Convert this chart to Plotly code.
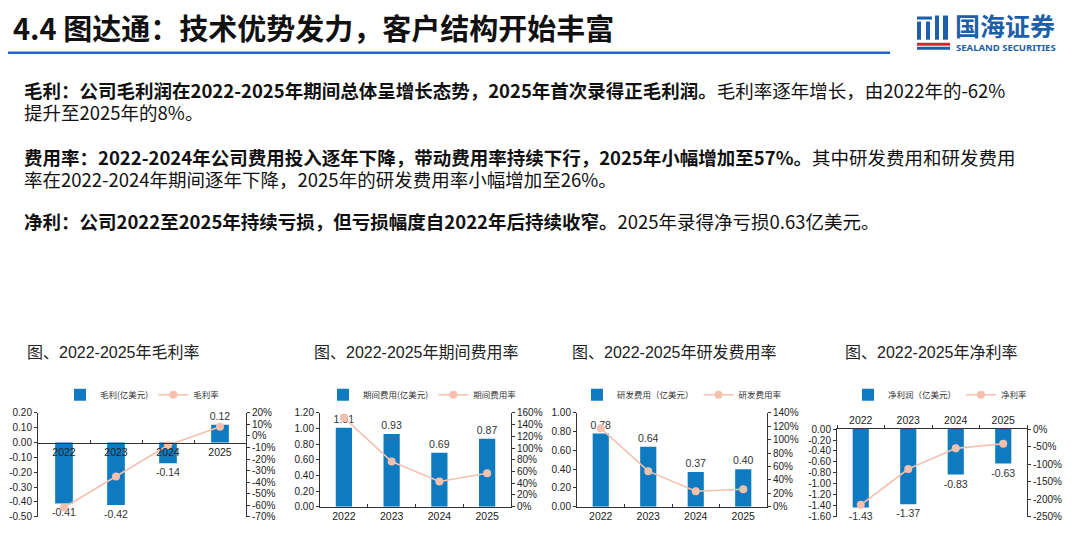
import plotly.graph_objects as go

W, H = 1080, 554

# ---- data -----------------------------------------------------------------
years = ["2022", "2023", "2024", "2025"]

gross_profit = [-0.41, -0.42, -0.14, 0.12]       # 亿美元
gross_margin = [-0.62, -0.35, -0.08, 0.08]

period_exp = [1.01, 0.93, 0.69, 0.87]
period_exp_rate = [1.52, 0.77, 0.43, 0.57]

rd_exp = [0.78, 0.64, 0.37, 0.40]
rd_exp_rate = [1.17, 0.53, 0.23, 0.26]

net_profit = [-1.43, -1.37, -0.83, -0.63]
net_margin = [-2.16, -1.14, -0.55, -0.42]

BLUE = "#0E7BC0"
PINK = "#F5C1AE"
AXIS = "#333333"
CJK = "Noto Sans CJK SC"
LATIN = "Liberation Sans"
MIXED = "Liberation Sans, Noto Sans CJK SC"


# map target screen pixels to paper fractions (page shifts the plot a bit)
def fx(px):
    return (px - 8) / W


def fy(py):
    return 1 - ((py - 16.5) / 0.97) / H


def ticks(lo, hi, step):
    n = int(round((hi - lo) / step))
    return [round(lo + i * step, 4) for i in range(n + 1)]


panels = [
    dict(title="图、2022-2025年毛利率", tx=25,
         bar=gross_profit, line=gross_margin,
         bar_name="毛利(亿美元)", line_name="毛利率",
         px=(38, 246), py=(412, 515),
         yl=(-0.5, 0.2, 0.1), yr=(-0.7, 0.2, 0.1), leg_x=60, xside="zero"),
    dict(title="图、2022-2025年期间费用率", tx=312,
         bar=period_exp, line=period_exp_rate,
         bar_name="期间费用(亿美元)", line_name="期间费用率",
         px=(320, 511), py=(412, 505),
         yl=(0.0, 1.2, 0.2), yr=(0.0, 1.6, 0.2), leg_x=323, xside="bottom"),
    dict(title="图、2022-2025年研发费用率", tx=570,
         bar=rd_exp, line=rd_exp_rate,
         bar_name="研发费用（亿美元）", line_name="研发费用率",
         px=(577, 767), py=(412, 505),
         yl=(0.0, 1.0, 0.2), yr=(0.0, 1.4, 0.2), leg_x=577, xside="bottom"),
    dict(title="图、2022-2025年净利率", tx=843,
         bar=net_profit, line=net_margin,
         bar_name="净利润（亿美元）", line_name="净利率",
         px=(837, 1027), py=(428, 515),
         yl=(-1.6, 0.0, 0.2), yr=(-2.5, 0.0, 0.5), leg_x=848, xside="top"),
]

fig = go.Figure()
layout = dict(
    width=W, height=H, margin=dict(l=0, r=0, t=0, b=0),
    paper_bgcolor="white", plot_bgcolor="rgba(0,0,0,0)",
    barmode="overlay", showlegend=True,
)
annotations = []

for i, p in enumerate(panels):
    k = i + 1
    xname = "x" if k == 1 else f"x{k}"
    yl_id, yr_id = 2 * k - 1, 2 * k
    ylname = "y" if yl_id == 1 else f"y{yl_id}"
    yrname = f"y{yr_id}"
    legname = "legend" if k == 1 else f"legend{k}"

    fig.add_bar(
        x=years, y=p["bar"], name=p["bar_name"], xaxis=xname, yaxis=ylname,
        marker=dict(color=BLUE, line=dict(width=0)), width=0.34,
        text=[f"{v:.2f}" for v in p["bar"]], textposition="outside",
        textfont=dict(family=LATIN, size=10.5, color="#333"),
        constraintext="none", cliponaxis=False, legend=legname,
    )
    fig.add_scatter(
        x=years, y=p["line"], name=p["line_name"], xaxis=xname, yaxis=yrname,
        mode="lines+markers", line=dict(color=PINK, width=1.6),
        marker=dict(color=PINK, size=8), cliponaxis=False, legend=legname,
    )

    ydom = [fy(p["py"][1]), fy(p["py"][0])]
    lo, hi, st = p["yl"]
    lv = ticks(lo, hi, st)
    rlo, rhi, rst = p["yr"]
    rv = ticks(rlo, rhi, rst)

    xa = dict(
        domain=[fx(p["px"][0]), fx(p["px"][1])], type="category",
        showline=True, linecolor=AXIS, linewidth=1,
        tickson="boundaries", ticklen=3, tickcolor=AXIS,
        tickfont=dict(family=LATIN, size=10.5, color="#222"),
        showgrid=False, zeroline=False, fixedrange=True,
    )
    if p["xside"] == "zero":
        zero_pos = ydom[0] + (0 - lo) / (hi - lo) * (ydom[1] - ydom[0])
        xa.update(anchor="free", position=zero_pos, ticks="inside")
    elif p["xside"] == "top":
        xa.update(anchor=ylname, side="top", ticks="outside")
    else:
        xa.update(anchor=ylname, ticks="inside")
    layout["xaxis" if k == 1 else f"xaxis{k}"] = xa

    layout["yaxis" if yl_id == 1 else f"yaxis{yl_id}"] = dict(
        domain=ydom, anchor=xname, range=[lo, hi],
        tickvals=lv, ticktext=[f"{v:.2f}" for v in lv],
        showline=True, linecolor=AXIS, ticks="outside", ticklen=3,
        tickcolor=AXIS, tickfont=dict(family=LATIN, size=10, color="#222"),
        showgrid=False, zeroline=False,
    )
    layout[f"yaxis{yr_id}"] = dict(
        domain=ydom, anchor=xname, overlaying=ylname, side="right",
        range=[rlo, rhi], tickvals=rv,
        ticktext=[f"{int(round(v * 100))}%" for v in rv],
        showline=True, linecolor=AXIS, ticks="outside", ticklen=3,
        tickcolor=AXIS, tickfont=dict(family=LATIN, size=10, color="#222"),
        showgrid=False, zeroline=False,
    )
    layout[legname] = dict(
        orientation="h", x=fx(p["leg_x"]), y=fy(394), xanchor="left",
        yanchor="middle", font=dict(family=CJK, size=8.5, color="#333"),
        bgcolor="rgba(0,0,0,0)", itemwidth=30, tracegroupgap=0,
    )

    annotations.append(dict(
        text=p["title"], x=fx(p["tx"]), y=fy(352), xref="paper", yref="paper",
        xanchor="left", yanchor="middle", showarrow=False,
        font=dict(family=MIXED, size=16, color="#222"),
    ))

# ---- header and body text --------------------------------------------------
annotations.append(dict(
    text="<b>4.4 图达通：技术优势发力，客户结构开始丰富</b>",
    x=fx(11), y=fy(29), xref="paper", yref="paper", xanchor="left",
    yanchor="middle", showarrow=False,
    font=dict(family=CJK, size=29, color="#111"),
))
annotations.append(dict(
    text="<b>国海证券</b>", x=fx(953), y=fy(27), xref="paper", yref="paper",
    xanchor="left", yanchor="middle", showarrow=False,
    font=dict(family=CJK, size=25, color="#1D5FA8"),
))
annotations.append(dict(
    text="<b>SEALAND SECURITIES</b>", x=fx(954), y=fy(50), xref="paper",
    yref="paper", xanchor="left", yanchor="middle", showarrow=False,
    font=dict(family="Noto Sans", size=9.5, color="#1D5FA8"),
))

body = [
    (92, "<b>毛利：公司毛利润在2022-2025年期间总体呈增长态势，2025年首次录得正毛利润。</b>毛利率逐年增长，由2022年的-62%"),
    (114, "提升至2025年的8%。"),
    (158, "<b>费用率：2022-2024年公司费用投入逐年下降，带动费用率持续下行，2025年小幅增加至57%。</b>其中研发费用和研发费用"),
    (180, "率在2022-2024年期间逐年下降，2025年的研发费用率小幅增加至26%。"),
    (222, "<b>净利：公司2022至2025年持续亏损，但亏损幅度自2022年后持续收窄。</b>2025年录得净亏损0.63亿美元。"),
]
for py, txt in body:
    annotations.append(dict(
        text=txt, x=fx(22), y=fy(py), xref="paper", yref="paper",
        xanchor="left", yanchor="middle", showarrow=False,
        font=dict(family=CJK, size=18.5, color="#111"),
    ))

layout["annotations"] = annotations

# title rule and logo mark
shapes = [
    dict(type="line", xref="paper", yref="paper", x0=fx(8), x1=fx(890),
         y0=fy(55), y1=fy(55), line=dict(color="#2563C9", width=2.5)),
]
logo_blue = [(917, 19, 932, 22), (917, 24, 921, 42), (926, 24, 930, 42),
             (935, 18, 939, 42), (943, 18, 948, 42), (917, 49, 950, 52)]
for x0, y0, x1, y1 in logo_blue:
    shapes.append(dict(type="rect", xref="paper", yref="paper",
                       x0=fx(x0), x1=fx(x1), y0=fy(y1), y1=fy(y0),
                       fillcolor="#1D5FA8", line=dict(width=0)))
shapes.append(dict(type="rect", xref="paper", yref="paper",
                   x0=fx(917), x1=fx(950), y0=fy(48), y1=fy(45),
                   fillcolor="#D7262E", line=dict(width=0)))
layout["shapes"] = shapes

fig.update_layout(**layout)
fig.write_html("out.html")
